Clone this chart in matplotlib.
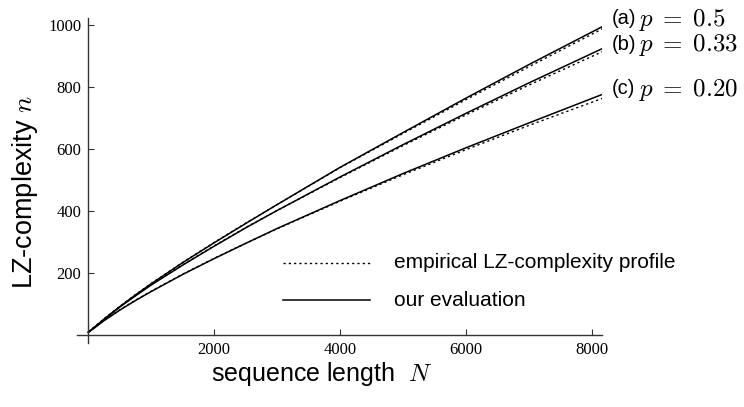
import matplotlib
matplotlib.use("Agg")
import matplotlib.pyplot as plt
from matplotlib.lines import Line2D

plt.rcParams['mathtext.fontset'] = 'cm'

# sequence lengths N where values were read
seq_len = [0, 100, 250, 500, 750, 1000, 1500, 2000, 2500, 3000,
           4000, 5000, 6000, 7000, 8192]

# our evaluation (solid)
eval_a = [10, 26, 52, 92, 130, 166, 234, 298, 360, 421, 541, 653, 764, 872, 997]
eval_b = [10, 26, 51, 91, 127, 162, 226, 287, 346, 402, 510, 614, 715, 813, 926]
eval_c = [9, 24, 47, 81, 112, 141, 196, 247, 296, 344, 434, 521, 604, 684, 778]

# empirical LZ-complexity profile (dotted)
emp_a = [11, 27, 53, 93, 131, 167, 235, 299, 361, 421, 540, 650, 759, 865, 990]
emp_b = [11, 27, 52, 92, 128, 163, 227, 288, 347, 402, 508, 611, 710, 806, 916]
emp_c = [10, 25, 48, 82, 113, 142, 197, 248, 296, 343, 432, 517, 598, 676, 765]

curve_tags = ["(a)", "(b)", "(c)"]
curve_p = [r"$p\;=\;0.5$", r"$p\;=\;0.33$", r"$p\;=\;0.20$"]

W, H = 744, 407
fig = plt.figure(figsize=(W / 100, H / 100), dpi=100)
ax = fig.add_axes([77 / W, 1 - 343 / H, 525 / W, 325 / H])

dot = (0, (1.6, 2.2))
for e in (emp_a, emp_b, emp_c):
    ax.plot(seq_len, e, color='black', lw=1.0, linestyle=dot)
for v in (eval_a, eval_b, eval_c):
    ax.plot(seq_len, v, color='black', lw=1.1)

ax.set_xlim(-180, 8160)
ax.set_ylim(-25, 1022)

for s in ('right', 'top'):
    ax.spines[s].set_visible(False)
ax.spines['left'].set_position(('data', 0))
ax.spines['bottom'].set_position(('data', 0))
for s in ('left', 'bottom'):
    ax.spines[s].set_linewidth(1.0)
    ax.spines[s].set_color('#333333')

ax.set_xticks([2000, 4000, 6000, 8000])
ax.set_yticks([200, 400, 600, 800, 1000])
ax.tick_params(direction='in', length=4.5, width=0.8, pad=5, color='#333333',
               labelsize=12)
for lab in ax.get_xticklabels() + ax.get_yticklabels():
    lab.set_fontfamily('Liberation Serif')

# curve labels to the right
label_y = [19, 44, 89]
for tag, ptxt, yp in zip(curve_tags, curve_p, label_y):
    fig.text(612 / W, 1 - yp / H, tag, fontsize=14.5, family='Liberation Sans',
             va='center', ha='left')
    fig.text(639 / W, 1 - (yp + 1) / H, ptxt, fontsize=18, va='center', ha='left')

fig.text(25 / W, 1 - 192 / H, "LZ-complexity $n$", rotation=90, fontsize=19.5,
         family='Liberation Sans', va='center', ha='center')
fig.text(322 / W, 1 - 374 / H, "sequence length  $N$", fontsize=18,
         family='Liberation Sans', va='center', ha='center')

# legend drawn by hand
fig.add_artist(Line2D([283 / W, 370 / W], [1 - 263 / H, 1 - 263 / H],
                      color='black', lw=1.0, linestyle=dot))
fig.add_artist(Line2D([283 / W, 370 / W], [1 - 300 / H, 1 - 300 / H],
                      color='black', lw=1.1))
fig.text(394 / W, 1 - 263 / H, "empirical LZ-complexity profile", fontsize=15,
         family='Liberation Sans', va='center', ha='left')
fig.text(394 / W, 1 - 300 / H, "our evaluation", fontsize=15,
         family='Liberation Sans', va='center', ha='left')

fig.savefig("out.png", dpi=100)
